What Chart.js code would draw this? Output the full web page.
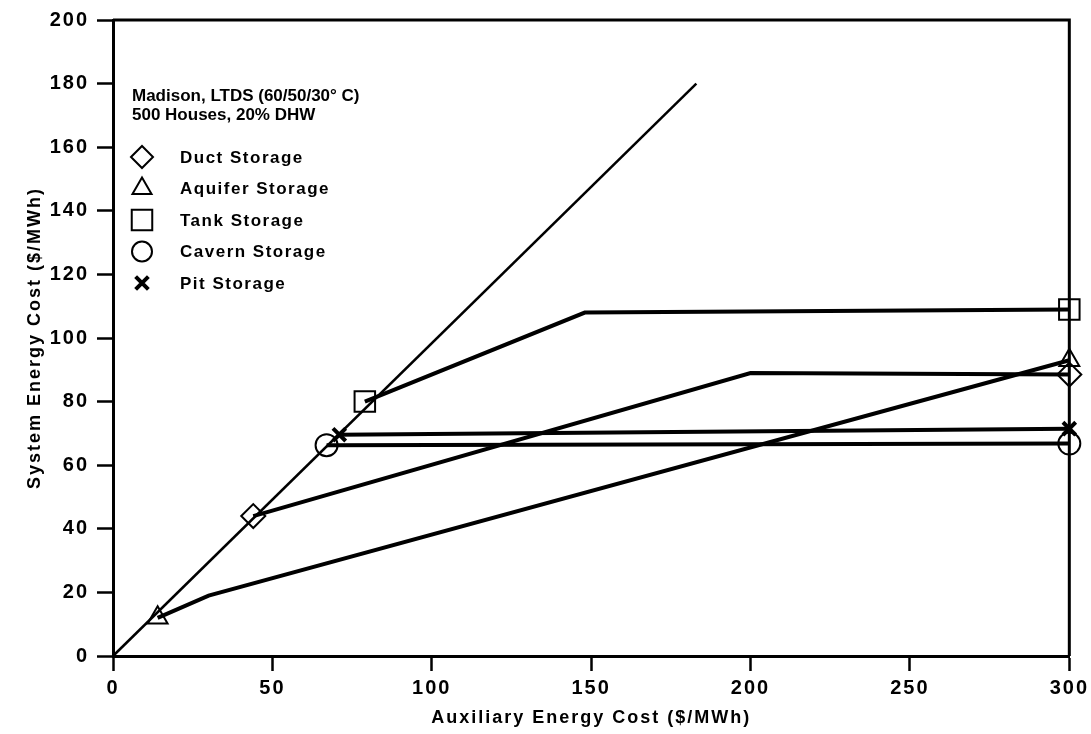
<!DOCTYPE html>
<html>
<head>
<meta charset="utf-8">
<title>System Energy Cost vs Auxiliary Energy Cost</title>
<script src="https://cdn.jsdelivr.net/npm/chart.js@4.4.1/dist/chart.umd.min.js"></script>
<style>
  html, body { margin: 0; padding: 0; background: #fff; }
  #wrap { width: 1091px; height: 734px; }
</style>
</head>
<body>
<div id="wrap"><canvas id="costChart" width="1091" height="734"></canvas></div>
<script>
// Tick labels
const xTicks = [0, 50, 100, 150, 200, 250, 300];
const yTicks = [0, 20, 40, 60, 80, 100, 120, 140, 160, 180, 200];

// Note text shown above the legend
const noteLines = ["Madison, LTDS (60/50/30° C)", "500 Houses, 20% DHW"];

// Series values (x = auxiliary cost, y = system cost)
const refX = [0, 183];
const refY = [0, 180];

const ductX = [44, 200, 300];
const ductY = [44, 89, 88.5];

const aquiferX = [14, 30, 300];
const aquiferY = [12, 19, 93];

const tankX = [79, 148, 300];
const tankY = [80, 108, 109];

const cavernX = [67, 300];
const cavernY = [66.3, 66.8];

const pitX = [71, 300];
const pitY = [69.6, 71.5];

const FONT = "'Liberation Sans', Arial, sans-serif";

// Pair up x and y arrays into points
function toPoints(xs, ys) {
  return xs.map((x, i) => ({ x: x, y: ys[i] }));
}

// Markers only at both ends of each curve
function endMarkers(count, radius) {
  return Array.from({ length: count }, (_, i) => (i === 0 || i === count - 1 ? radius : 0));
}

// Storage types: label, data, marker look
const storages = [
  { label: "Duct Storage", xs: ductX, ys: ductY, style: "rectRot", radius: 12, legendRadius: 11, width: 2 },
  { label: "Aquifer Storage", xs: aquiferX, ys: aquiferY, style: "triangle", radius: 11.5, legendRadius: 11, width: 2 },
  { label: "Tank Storage", xs: tankX, ys: tankY, style: "rect", radius: 14.5, legendRadius: 14.5, width: 2 },
  { label: "Cavern Storage", xs: cavernX, ys: cavernY, style: "circle", radius: 11, legendRadius: 10, width: 2 },
  { label: "Pit Storage", xs: pitX, ys: pitY, style: "crossRot", radius: 9, legendRadius: 9, width: 4 },
];

function buildDatasets() {
  const sets = storages.map(s => ({
    label: s.label,
    data: toPoints(s.xs, s.ys),
    showLine: true,
    clip: false,
    borderColor: "#000",
    borderWidth: 4,
    pointStyle: s.style,
    pointRadius: endMarkers(s.xs.length, s.radius),
    pointBorderWidth: s.width,
    pointBorderColor: "#000",
    pointBackgroundColor: "rgba(0,0,0,0)",
  }));
  // Diagonal reference line
  sets.push({
    label: "reference",
    data: toPoints(refX, refY),
    showLine: true,
    clip: false,
    borderColor: "#000",
    borderWidth: 2.5,
    pointRadius: 0,
  });
  return sets;
}

// Wider letter spacing like the scanned figure
const spacingPlugin = {
  id: "spacing",
  beforeDraw(chart) {
    chart.ctx.letterSpacing = "2px";
  },
};

// Box around the plot area (top and right sides)
const framePlugin = {
  id: "frame",
  beforeDatasetsDraw(chart) {
    const { ctx, chartArea } = chart;
    ctx.save();
    ctx.strokeStyle = "#000";
    ctx.lineWidth = 3;
    ctx.beginPath();
    ctx.moveTo(chartArea.left, chartArea.top);
    ctx.lineTo(chartArea.right, chartArea.top);
    ctx.lineTo(chartArea.right, chartArea.bottom);
    ctx.stroke();
    ctx.restore();
  },
};

// Legend drawn inside the plot, upper left
const legendPlugin = {
  id: "insideLegend",
  afterDraw(chart) {
    const ctx = chart.ctx;
    ctx.save();
    ctx.textBaseline = "middle";
    ctx.textAlign = "left";
    ctx.fillStyle = "#000";
    ctx.font = "bold 17px " + FONT;
    ctx.letterSpacing = "0px";
    noteLines.forEach((t, i) => ctx.fillText(t, 132, 96 + i * 19));

    ctx.letterSpacing = "1.5px";
    storages.forEach((s, i) => {
      const y = 157 + i * 31.5;
      ctx.fillStyle = "rgba(0,0,0,0)";
      ctx.strokeStyle = "#000";
      ctx.lineWidth = s.width;
      Chart.helpers.drawPoint(ctx, { pointStyle: s.style, radius: s.legendRadius, borderWidth: s.width, rotation: 0 }, 142, y);
      ctx.fillStyle = "#000";
      ctx.fillText(s.label, 180, y + 1);
    });
    ctx.restore();
  },
};

function renderChart() {
  const ctx = document.getElementById("costChart").getContext("2d");
  new Chart(ctx, {
    type: "scatter",
    data: { datasets: buildDatasets() },
    plugins: [spacingPlugin, framePlugin, legendPlugin],
    options: {
      responsive: false,
      animation: false,
      devicePixelRatio: 1,
      layout: { padding: { top: 19, right: 21, left: 0, bottom: 0 } },
      plugins: { legend: { display: false }, tooltip: { enabled: false } },
      scales: {
        x: {
          type: "linear",
          min: 0,
          max: 300,
          afterBuildTicks: scale => { scale.ticks = xTicks.map(v => ({ value: v })); },
          afterFit: scale => { scale.height = 78; },
          grid: { drawOnChartArea: false, tickLength: 15, tickWidth: 2.5, tickColor: "#000" },
          border: { color: "#000", width: 3 },
          ticks: { color: "#000", font: { family: FONT, size: 20, weight: "bold" }, padding: 5, autoSkip: false, maxRotation: 0 },
          title: {
            display: true,
            text: "Auxiliary Energy Cost ($/MWh)",
            color: "#000",
            font: { family: FONT, size: 18, weight: "bold" },
            padding: { top: 0, bottom: 5 },
          },
        },
        y: {
          type: "linear",
          min: 0,
          max: 200,
          afterBuildTicks: scale => { scale.ticks = yTicks.map(v => ({ value: v })); },
          afterFit: scale => { scale.width = 113; },
          grid: { drawOnChartArea: false, tickLength: 16, tickWidth: 2.5, tickColor: "#000" },
          border: { color: "#000", width: 3 },
          ticks: { color: "#000", font: { family: FONT, size: 20, weight: "bold" }, padding: 8 },
          title: {
            display: true,
            text: "System Energy Cost ($/MWh)",
            color: "#000",
            font: { family: FONT, size: 18, weight: "bold" },
            padding: { top: 24, bottom: 0 },
          },
        },
      },
    },
  });
}

document.addEventListener("DOMContentLoaded", renderChart);
</script>
</body>
</html>
